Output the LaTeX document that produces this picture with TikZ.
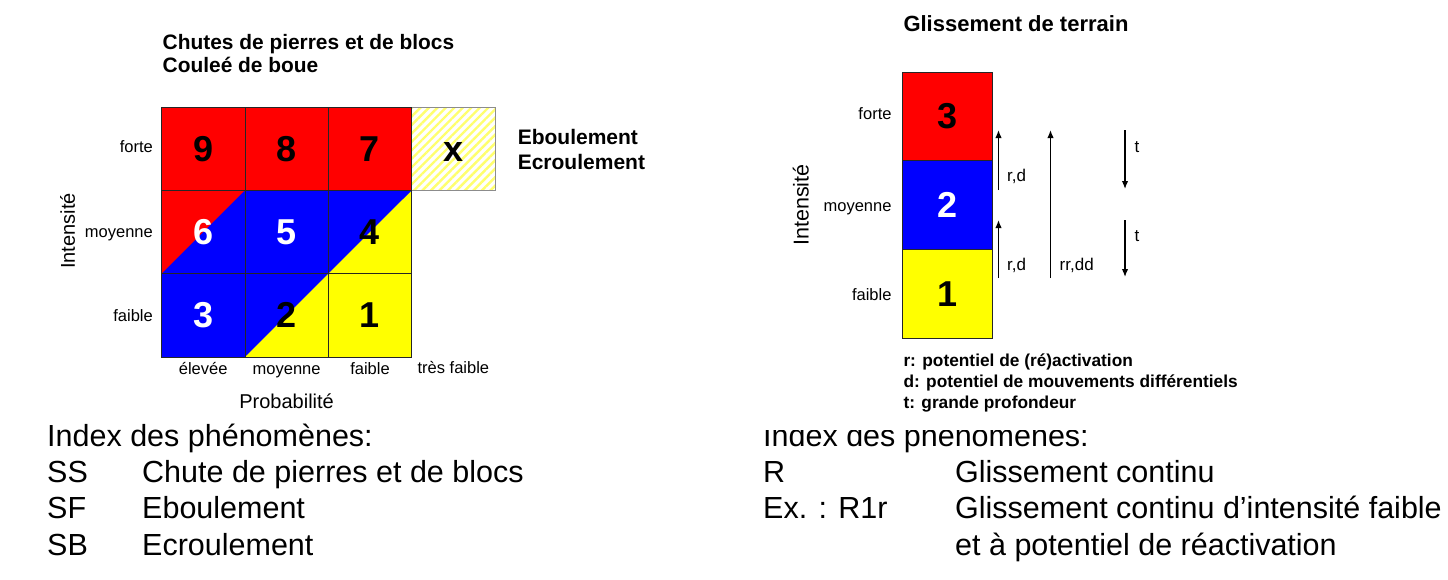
\documentclass[tikz,border=0pt]{standalone}
\usepackage{fontspec}
\setmainfont{Liberation Sans}
\usetikzlibrary{positioning,calc,arrows.meta,patterns.meta}
\definecolor{hazred}{RGB}{255,0,0}
\definecolor{hazblue}{RGB}{0,0,255}
\definecolor{hazyellow}{RGB}{255,255,0}
\definecolor{hatchyellow}{RGB}{255,255,110}
\tikzset{
  cell/.style={draw=black!85,line width=0.8pt,outer sep=0pt,minimum width=83.4pt,minimum height=83.3pt,inner sep=0pt,font=\fontsize{36}{40}\selectfont\bfseries},
  halfcell/.style 2 args={cell,fill=#2,path picture={\fill[#1] (path picture bounding box.south west) -- (path picture bounding box.north west) -- (path picture bounding box.north east) -- cycle;}},
  column/.style={cell,minimum width=90pt,minimum height=88.8pt},
  tick/.style={inner sep=0pt,font=\fontsize{16.5}{20}\selectfont},
  arrlbl/.style={inner sep=1pt,anchor=west,font=\fontsize{17}{20}\selectfont},
  axislbl/.style={inner sep=0pt,font=\fontsize{20}{24}\selectfont},
  heading/.style={inner sep=0pt,anchor=base west,font=\fontsize{20.9}{24}\selectfont\bfseries},
  legend/.style={inner sep=0pt,anchor=base west,font=\fontsize{17.3}{21}\selectfont\bfseries},
  index/.style={inner sep=0pt,anchor=base west,font=\fontsize{30.5}{36}\selectfont},
  updown/.style={line width=1.4pt,-{Latex[length=8pt,width=6.5pt]}}
}
\begin{document}
\begin{tikzpicture}[x=1pt,y=-1pt]
\useasboundingbox (0,0) rectangle (1448,579);
% chutes de pierres: matrice intensite / probabilite
\node [cell,fill=hazred,anchor=north west] (c11) at (161.5,107) {9};
\node [cell,fill=hazred,right=0pt of c11] (c12) {8};
\node [cell,fill=hazred,right=0pt of c12] (c13) {7};
\node [cell,draw=black!45,pattern={Lines[angle=45,distance=6pt,line width=2.4pt]},pattern color=hatchyellow,right=0pt of c13] (c14) {\vphantom{9}x};
\node [halfcell={hazred}{hazblue},text=white,below=0pt of c11] (c21) {6};
\node [cell,fill=hazblue,text=white,below=0pt of c12] (c22) {5};
\node [halfcell={hazblue}{hazyellow},below=0pt of c13] (c23) {4};
\node [cell,fill=hazblue,text=white,below=0pt of c21] (c31) {3};
\node [halfcell={hazblue}{hazyellow},below=0pt of c22] (c32) {2};
\node [cell,fill=hazyellow,below=0pt of c23] (c33) {1};
\draw [black!85,line width=0.8pt] (c13.north east) -- (c13.south east);
\node [tick,anchor=base east] (fort1) at (153,152.3) {forte};
\node [tick,anchor=base east] (moy1) at (153,237.3) {moyenne};
\node [tick,anchor=base east] (faib1) at (153,321) {faible};
\node [tick,anchor=base] (pelev) at (c31.south |- 0,374.5) {élevée};
\node [tick,anchor=base] (pmoy) at (c32.south |- 0,374.5) {moyenne};
\node [tick,anchor=base] (pfaib) at (c33.south |- 0,374.5) {faible};
\node [tick,anchor=base] (ptf) at (c14.south |- 0,373.5) {très faible};
\node [axislbl] (prob) at ($(c32.south)+(0,44)$) {Probabilité};
\node [axislbl,rotate=90] (int1) at (67.5,231) {Intensité};
\node [heading] (tit1) at (162.5,49.3) {Chutes de pierres et de blocs};
\node [heading] (tit2) at ($(tit1.base west)+(0,23.4)$) {Couleé de boue};
\node [heading,font=\fontsize{21}{25}\selectfont\bfseries] (ebo) at ($(c14.east)+(22.5,-4)$) {Eboulement};
\node [heading,font=\fontsize{21}{25}\selectfont\bfseries] (ecr) at ($(ebo.base west)+(0,25)$) {Ecroulement};
% glissement de terrain
\node [column,fill=hazred,anchor=north west] (r3) at (902,72) {3};
\node [column,fill=hazblue,text=white,below=0pt of r3] (r2) {2};
\node [column,fill=hazyellow,below=0pt of r2] (r1) {1};
\node [tick,anchor=base east] (fort2) at (891.7,119) {forte};
\node [tick,anchor=base east] (moy2) at (891.7,211.7) {moyenne};
\node [tick,anchor=base east] (faib2) at (891.7,300) {faible};
\node [axislbl,font=\fontsize{21.5}{26}\selectfont,rotate=90] (int2) at (800.7,205) {Intensité};
\node [heading,font=\fontsize{22}{26}\selectfont\bfseries] (tit3) at (903.3,31.7) {Glissement de terrain};
\coordinate (u1a) at (998.5,190); \coordinate (u1b) at (998.5,130);
\coordinate (u2a) at (998.5,278); \coordinate (u2b) at (998.5,220);
\coordinate (u3a) at (1050.5,278); \coordinate (u3b) at (1050.5,130);
\coordinate (d1a) at (1125,130); \coordinate (d1b) at (1125,189);
\coordinate (d2a) at (1125,220); \coordinate (d2b) at (1125,277);
\draw [updown] (u1a) -- (u1b);
\draw [updown] (u2a) -- (u2b);
\draw [updown] (u3a) -- (u3b);
\draw [updown] (d1a) -- (d1b);
\draw [updown] (d2a) -- (d2b);
\node [arrlbl] (rd1) at (1006,176) {r,d};
\node [arrlbl] (rd2) at (1006,265) {r,d};
\node [arrlbl] (rrdd) at (1058.5,265) {rr,dd};
\node [arrlbl] (t1) at (1133.5,146.7) {t};
\node [arrlbl] (t2) at (1133.5,236) {t};
\node [legend] (lr) at (903.3,366.7) {r: potentiel de (ré)activation};
\node [legend] (ld) at ($(lr.base west)+(0,20.8)$) {d: potentiel de mouvements différentiels};
\node [legend] (lt) at ($(ld.base west)+(0,20.8)$) {t: grande profondeur};
% index des phenomenes
\node [index] (idx1) at (47,446) {Index des phénomènes:};
\node [index] (ss) at (47,482) {SS};
\node [index] (sf) at (47,518) {SF};
\node [index] (sb) at (47,555) {SB};
\node [index] (ssd) at (142,482) {Chute de pierres et de blocs};
\node [index] (sfd) at (142,518) {Eboulement};
\node [index] (sbd) at (142,555) {Ecroulement};
\begin{scope}
\clip (740,430) rectangle (1448,470);
\node [index] (idx2) at (763,446) {Index des phénomènes:};
\end{scope}
\node [index] (rr) at (763,482) {R};
\node [index] (ex) at (763,518) {Ex. : R1r};
\node [index] (rrd) at (955,482) {Glissement continu};
\node [index] (exd) at (955,518) {Glissement continu d’intensité faible};
\node [index] (exd2) at (955,555) {et à potentiel de réactivation};
\end{tikzpicture}
\end{document}
